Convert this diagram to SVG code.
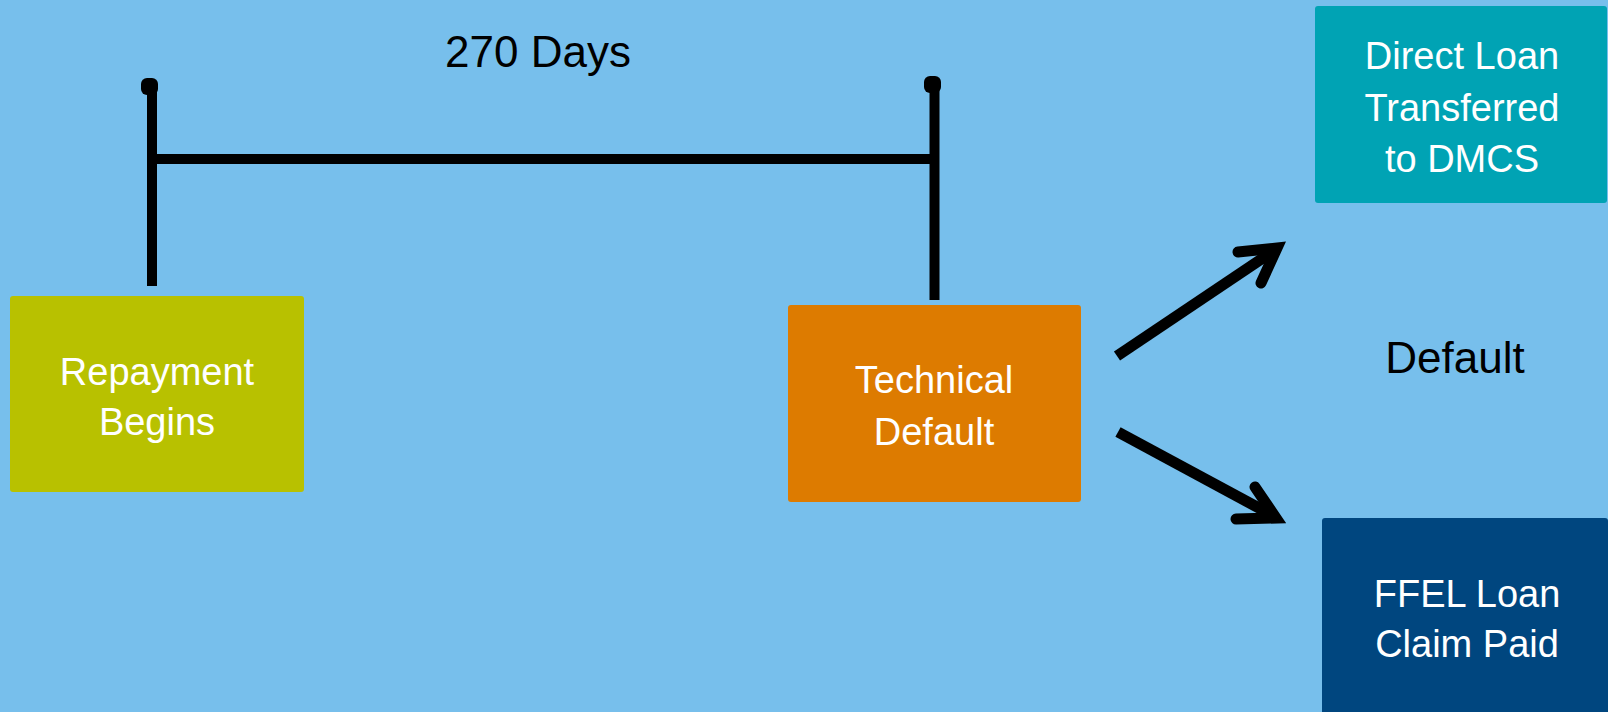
<svg xmlns="http://www.w3.org/2000/svg" width="1608" height="712" viewBox="0 0 1608 712">
<style>
text{font-family:"Liberation Sans",Arial,sans-serif;text-anchor:middle}
.w{fill:#ffffff;font-size:38px}
.b{fill:#000000;font-size:44px}
.ln{stroke:#000;stroke-width:10;fill:none}
.ar{stroke:#000;stroke-width:11;fill:none}
.hd{stroke:#000;stroke-width:11;fill:none;stroke-linecap:round;stroke-linejoin:miter;stroke-miterlimit:10}
</style>
<rect width="1608" height="712" fill="#77BFEC"/>
<g id="connectors">
<rect x="141" y="78" width="17" height="17" rx="6" fill="#000"/>
<line class="ln" x1="152" y1="86" x2="152" y2="286"/>
<rect x="924" y="76" width="17" height="17" rx="6" fill="#000"/>
<line class="ln" x1="934.5" y1="84" x2="934.5" y2="300"/>
<line class="ln" x1="147" y1="159" x2="935" y2="159"/>
<line class="ar" x1="1117" y1="356" x2="1272" y2="252"/>
<polyline class="hd" points="1238,252 1277,248 1261,283"/>
<line class="ar" x1="1118" y1="432" x2="1270" y2="514"/>
<polyline class="hd" points="1255,487 1276,518 1236,519"/>
</g>
<text class="b" x="538" y="67">270 Days</text>
<text class="b" x="1455" y="373" font-size="43">Default</text>
<g id="repayment">
<rect x="10" y="296" width="294" height="196" rx="3" fill="#B8C100"/>
<text class="w" x="157" y="385">Repayment</text>
<text class="w" x="157" y="435">Begins</text>
</g>
<g id="technical">
<rect x="788" y="305" width="293" height="197" rx="3" fill="#DD7B00"/>
<text class="w" x="934" y="393">Technical</text>
<text class="w" x="934" y="445">Default</text>
</g>
<g id="direct">
<rect x="1315" y="6" width="292" height="197" rx="3" fill="#00A3B4"/>
<text class="w" x="1462" y="69">Direct Loan</text>
<text class="w" x="1462" y="121">Transferred</text>
<text class="w" x="1462" y="172">to DMCS</text>
</g>
<g id="ffel">
<rect x="1322" y="518" width="286" height="200" rx="3" fill="#00467F"/>
<text class="w" x="1467" y="607">FFEL Loan</text>
<text class="w" x="1467" y="657">Claim Paid</text>
</g>
</svg>
